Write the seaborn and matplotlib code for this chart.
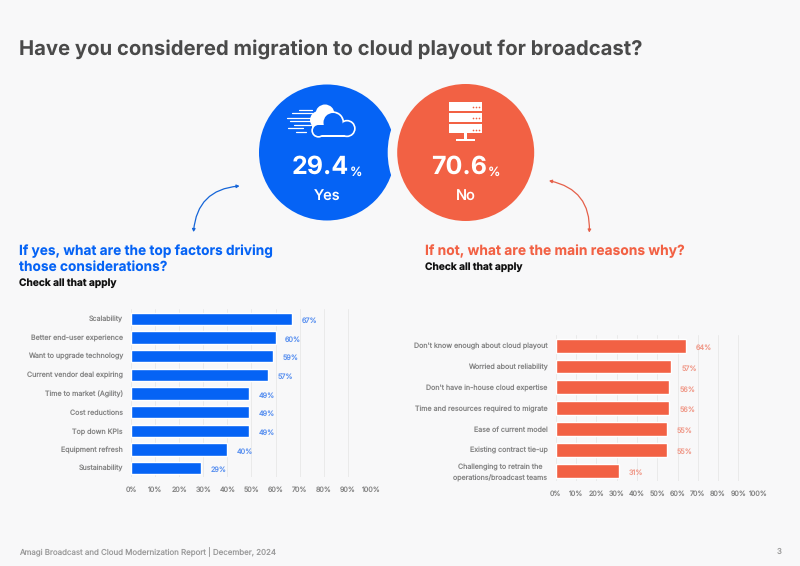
import matplotlib
matplotlib.use("Agg")
import matplotlib.pyplot as plt
from matplotlib.patches import Circle, FancyArrowPatch, Rectangle
import pandas as pd
import seaborn as sns

W, H = 800, 566
BG = "#F8F8F9"
BLUE = "#0563F5"
RED = "#F26144"
FONT = "Inter"

yes_factors = ["Scalability", "Better end-user experience", "Want to upgrade technology",
               "Current vendor deal expiring", "Time to market (Agility)", "Cost reductions",
               "Top down KPIs", "Equipment refresh", "Sustainability"]
yes_values = [67, 60, 59, 57, 49, 49, 49, 40, 29]
no_reasons = ["Don't know enough about cloud playout", "Worried about reliability",
              "Don't have in-house cloud expertise", "Time and resources required to migrate",
              "Ease of current model", "Existing contract tie-up",
              "Challenging to retrain the\noperations/broadcast teams"]
no_values = [64, 57, 56, 56, 55, 55, 31]
x_ticks = list(range(0, 101, 10))
share_yes = "29.4"
share_no = "70.6"

sns.set_theme(style="white")
plt.rcParams["font.family"] = [FONT, "DejaVu Sans"]
plt.rcParams["text.hinting"] = "no_hinting"
plt.rcParams["text.hinting_factor"] = 1
fig = plt.figure(figsize=(W / 100, H / 100), dpi=100, facecolor=BG)


def px_axes(left, top, right, bottom):
    return fig.add_axes([left / W, 1 - bottom / H, (right - left) / W, (bottom - top) / H])


def bar_panel(ax, labels, values, color, width, label_color):
    frame = pd.DataFrame({"item": labels, "pct": values})
    sns.barplot(data=frame, x="pct", y="item", color=color, width=width, saturation=1, ax=ax)
    ax.set_xlim(0, 100)
    ax.set_facecolor("none")
    ax.set_xticks(x_ticks, [f"{t}%" for t in x_ticks])
    ax.set_xlabel("")
    ax.set_ylabel("")
    ax.grid(axis="x", color="#EAEAEA", lw=0.7)
    ax.set_axisbelow(True)
    sns.despine(ax=ax, left=True, bottom=True)
    ax.tick_params(axis="both", length=0, labelsize=5.1, labelcolor="#858585")
    ax.tick_params(axis="x", pad=6.5)
    ax.tick_params(axis="y", pad=6)
    for tick in ax.get_yticklabels():
        tick.set_multialignment("center")
        tick.set_linespacing(1.55)
    for i, v in enumerate(values):
        ax.annotate(f"{v}%", (v, i), xytext=(7, -1.5), textcoords="offset points", va="center",
                    fontsize=5.2, color=label_color, annotation_clip=False)


left_ax = px_axes(131.2, 309.4, 371.7, 477.4)
bar_panel(left_ax, yes_factors, yes_values, BLUE, 0.66, "#5C92F0")
right_ax = px_axes(555.8, 335.3, 758.7, 481)
bar_panel(right_ax, no_reasons, no_values, RED, 0.67, "#F09A8A")

# Pixel-space layer for the headline, the two share badges and the callouts
ov = fig.add_axes([0, 0, 1, 1], facecolor="none", zorder=5)
ov.set_xlim(0, W)
ov.set_ylim(H, 0)
ov.axis("off")

ov.text(19, 49.5, "Have you considered migration to cloud playout for broadcast?", fontsize=14.6,
        fontweight="bold", color="#4A4A4A", va="center")

ov.add_patch(Circle((327, 152.5), 68, color=BLUE, lw=0))
ov.add_patch(Circle((465.7, 152.5), 78, color=BG, lw=0))
ov.add_patch(Circle((465.7, 152.5), 68.5, color=RED, lw=0))


def share(cx, value, name):
    ov.text(cx - 35, 167, value, fontsize=18, fontweight="bold", color="white", va="center")
    ov.text(cx + 22.5, 172, "%", fontsize=9, fontweight="medium", color="white", va="center")
    ov.text(cx, 197, name, fontsize=10.5, fontweight="medium", color="white", ha="center", va="center")


share(327, share_yes, "Yes")
share(465.7, share_no, "No")

# Cloud icon: solid trailing puff, speed streaks, then the outlined cloud on top
for cx, cy, r in [(325, 114, 9.5), (319, 120, 9), (318, 126, 6)]:
    ov.add_patch(Circle((cx, cy), r, color="white", lw=0))
bumps = [(318.5, 130.5, 5.5), (333, 122.5, 9.5), (347, 128.5, 7)]
for cx, cy, r in bumps:
    ov.add_patch(Circle((cx, cy), r + 1.7, color="white", lw=0))
ov.add_patch(Rectangle((318, 134), 29, 3.3, color="white", lw=0))
for cx, cy, r in bumps:
    ov.add_patch(Circle((cx, cy), r, color=BLUE, lw=0))
ov.add_patch(Rectangle((318.5, 125), 28.5, 10.2, color=BLUE, lw=0))
for x0, x1, y in [(299, 312, 110), (292, 312, 113), (287, 310, 118), (290, 312, 121),
                  (294, 311, 125), (288, 303, 128), (296, 306, 132)]:
    ov.plot([x0, x1], [y, y], color="white", lw=0.9, solid_capstyle="round")

# Server icon: three rack units on a stand
for y in (101.7, 112.8, 124):
    ov.add_patch(Rectangle((449, y), 33, 9.4, color="white", lw=0))
    ov.plot([472.5, 475.5, 478.5], [y + 5.5] * 3, "o", color=RED, ms=1.2, mew=0)
ov.add_patch(Rectangle((464.3, 133.4), 2.2, 6.5, color="white", lw=0))
ov.add_patch(Rectangle((456, 139), 19, 1.9, color="white", lw=0))

# Curved callouts linking each badge to its follow-up question
ov.add_patch(FancyArrowPatch((193.5, 232), (239.5, 186), connectionstyle="arc3,rad=-0.42",
                             arrowstyle="<|-|>,head_length=1.6,head_width=0.9",
                             color="#1565D8", lw=0.9, shrinkA=0, shrinkB=0))
ov.add_patch(FancyArrowPatch((589.3, 232.5), (549, 180.7), connectionstyle="arc3,rad=0.42",
                             arrowstyle="<|-|>,head_length=1.6,head_width=0.9",
                             color="#E5604A", lw=0.9, shrinkA=0, shrinkB=0))

ov.text(19, 251.5, "If yes, what are the top factors driving", fontsize=9.85, fontweight="bold", color=BLUE, va="center")
ov.text(19, 267.5, "those considerations?", fontsize=9.85, fontweight="bold", color=BLUE, va="center")
ov.text(19, 283.5, "Check all that apply", fontsize=7.3, fontweight="bold", color="#111111", va="center")
ov.text(425, 251.5, "If not, what are the main reasons why?", fontsize=9.95, fontweight="bold", color=RED, va="center")
ov.text(425, 267.5, "Check all that apply", fontsize=7.3, fontweight="bold", color="#111111", va="center")

ov.text(19, 552, "Amagi Broadcast and Cloud Modernization Report | December, 2024", fontsize=5.7,
        color="#9A9A9A", va="center")
ov.text(782, 552, "3", fontsize=5.7, color="#9A9A9A", va="center", ha="right")

fig.savefig("out.png", dpi=100, facecolor=BG)
